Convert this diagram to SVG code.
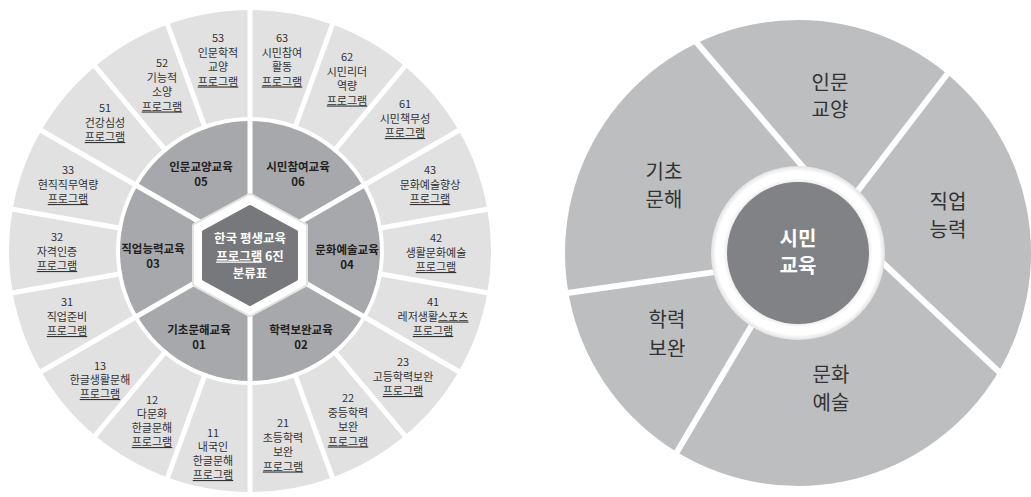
<svg xmlns="http://www.w3.org/2000/svg" width="1031" height="497" viewBox="0 0 1031 497">
<style>
text{font-family:"Noto Sans CJK KR","Noto Sans",sans-serif;text-anchor:middle}
.seg{fill:#e1e1e2}
.mid{fill:#a7a8ab}
.ol{font-size:11px;fill:#333}
.ml{font-size:11.5px;font-weight:bold;fill:#231f20}
.ct{font-size:12.5px;font-weight:bold;fill:#fff}
.u{text-decoration:underline}
.sep{stroke:#fff;stroke-width:5}
.rsep{stroke:#fff;stroke-width:6}
.rw{fill:#bcbec0}
.rl{font-size:20px;fill:#333}
.rc{font-size:20px;font-weight:bold;fill:#fff}
</style>
<defs>
<radialGradient id="ringG" cx="50%" cy="50%" r="50%">
<stop offset="0.78" stop-color="#dedede"/>
<stop offset="0.86" stop-color="#ffffff"/>
<stop offset="0.94" stop-color="#ffffff"/>
<stop offset="1" stop-color="#e2e2e2"/>
</radialGradient>
</defs>

<!-- LEFT WHEEL: outer ring -->
<g id="n63"><path class="seg" d="M250,117 L250,10 A241,241 0 0 1 332.43,24.53 L295.83,125.08 A134,134 0 0 0 250,117 Z"/>
<text class="ol" x="282" y="42">63<tspan x="282" dy="14.5">시민참여</tspan><tspan x="282" dy="14.5">활동</tspan><tspan x="282" dy="14.5" class="u">프로그램</tspan></text></g>
<g id="n62"><path class="seg" d="M295.83,125.08 L332.43,24.53 A241,241 0 0 1 404.91,66.38 L336.13,148.35 A134,134 0 0 0 295.83,125.08 Z"/>
<text class="ol" x="347" y="61">62<tspan x="347" dy="14.5">시민리더</tspan><tspan x="347" dy="14.5">역량</tspan><tspan x="347" dy="14.5" class="u">프로그램</tspan></text></g>
<g id="n61"><path class="seg" d="M336.13,148.35 L404.91,66.38 A241,241 0 0 1 458.71,130.5 L366.05,184 A134,134 0 0 0 336.13,148.35 Z"/>
<text class="ol" x="405" y="108">61<tspan x="405" dy="14.5">시민책무성</tspan><tspan x="405" dy="14.5" class="u">프로그램</tspan></text></g>
<g id="n43"><path class="seg" d="M366.05,184 L458.71,130.5 A241,241 0 0 1 487.34,209.15 L381.96,227.73 A134,134 0 0 0 366.05,184 Z"/>
<text class="ol" x="430" y="174">43<tspan x="430" dy="14.5">문화예술향상</tspan><tspan x="430" dy="14.5" class="u">프로그램</tspan></text></g>
<g id="n42"><path class="seg" d="M381.96,227.73 L487.34,209.15 A241,241 0 0 1 487.34,292.85 L381.96,274.27 A134,134 0 0 0 381.96,227.73 Z"/>
<text class="ol" x="436" y="242">42<tspan x="436" dy="14.5">생활문화예술</tspan><tspan x="436" dy="14.5" class="u">프로그램</tspan></text></g>
<g id="n41"><path class="seg" d="M381.96,274.27 L487.34,292.85 A241,241 0 0 1 458.71,371.5 L366.05,318 A134,134 0 0 0 381.96,274.27 Z"/>
<text class="ol" x="433" y="306">41<tspan x="433" dy="14.5">레저생활<tspan class="u">스포츠</tspan></tspan><tspan x="433" dy="14.5" class="u">프로그램</tspan></text></g>
<g id="n23"><path class="seg" d="M366.05,318 L458.71,371.5 A241,241 0 0 1 404.91,435.62 L336.13,353.65 A134,134 0 0 0 366.05,318 Z"/>
<text class="ol" x="403" y="366">23<tspan x="403" dy="14.5">고등학력보완</tspan><tspan x="403" dy="14.5" class="u">프로그램</tspan></text></g>
<g id="n22"><path class="seg" d="M336.13,353.65 L404.91,435.62 A241,241 0 0 1 332.43,477.47 L295.83,376.92 A134,134 0 0 0 336.13,353.65 Z"/>
<text class="ol" x="348" y="402">22<tspan x="348" dy="14.5">중등학력</tspan><tspan x="348" dy="14.5">보완</tspan><tspan x="348" dy="14.5" class="u">프로그램</tspan></text></g>
<g id="n21"><path class="seg" d="M295.83,376.92 L332.43,477.47 A241,241 0 0 1 250,492 L250,385 A134,134 0 0 0 295.83,376.92 Z"/>
<text class="ol" x="283" y="427">21<tspan x="283" dy="14.5">초등학력</tspan><tspan x="283" dy="14.5">보완</tspan><tspan x="283" dy="14.5" class="u">프로그램</tspan></text></g>
<g id="n11"><path class="seg" d="M250,385 L250,492 A241,241 0 0 1 167.57,477.47 L204.17,376.92 A134,134 0 0 0 250,385 Z"/>
<text class="ol" x="213" y="437">11<tspan x="213" dy="14">내국인</tspan><tspan x="213" dy="14">한글문해</tspan><tspan x="213" dy="14" class="u">프로그램</tspan></text></g>
<g id="n12"><path class="seg" d="M204.17,376.92 L167.57,477.47 A241,241 0 0 1 95.09,435.62 L163.87,353.65 A134,134 0 0 0 204.17,376.92 Z"/>
<text class="ol" x="152" y="404">12<tspan x="152" dy="14">다문화</tspan><tspan x="152" dy="14">한글문해</tspan><tspan x="152" dy="14" class="u">프로그램</tspan></text></g>
<g id="n13"><path class="seg" d="M163.87,353.65 L95.09,435.62 A241,241 0 0 1 41.29,371.5 L133.95,318 A134,134 0 0 0 163.87,353.65 Z"/>
<text class="ol" x="100" y="370">13<tspan x="100" dy="14">한글생활문해</tspan><tspan x="100" dy="14" class="u">프로그램</tspan></text></g>
<g id="n31"><path class="seg" d="M133.95,318 L41.29,371.5 A241,241 0 0 1 12.66,292.85 L118.04,274.27 A134,134 0 0 0 133.95,318 Z"/>
<text class="ol" x="67" y="306">31<tspan x="67" dy="14.5">직업준비</tspan><tspan x="67" dy="14.5" class="u">프로그램</tspan></text></g>
<g id="n32"><path class="seg" d="M118.04,274.27 L12.66,292.85 A241,241 0 0 1 12.66,209.15 L118.04,227.73 A134,134 0 0 0 118.04,274.27 Z"/>
<text class="ol" x="57" y="241">32<tspan x="57" dy="14.5">자격인증</tspan><tspan x="57" dy="14.5" class="u">프로그램</tspan></text></g>
<g id="n33"><path class="seg" d="M118.04,227.73 L12.66,209.15 A241,241 0 0 1 41.29,130.5 L133.95,184 A134,134 0 0 0 118.04,227.73 Z"/>
<text class="ol" x="68" y="174">33<tspan x="68" dy="14.5">현직직무역량</tspan><tspan x="68" dy="14.5" class="u">프로그램</tspan></text></g>
<g id="n51"><path class="seg" d="M133.95,184 L41.29,130.5 A241,241 0 0 1 95.09,66.38 L163.87,148.35 A134,134 0 0 0 133.95,184 Z"/>
<text class="ol" x="105" y="112">51<tspan x="105" dy="14.5">건강심성</tspan><tspan x="105" dy="14.5" class="u">프로그램</tspan></text></g>
<g id="n52"><path class="seg" d="M163.87,148.35 L95.09,66.38 A241,241 0 0 1 167.57,24.53 L204.17,125.08 A134,134 0 0 0 163.87,148.35 Z"/>
<text class="ol" x="162" y="67">52<tspan x="162" dy="14.5">기능적</tspan><tspan x="162" dy="14.5">소양</tspan><tspan x="162" dy="14.5" class="u">프로그램</tspan></text></g>
<g id="n53"><path class="seg" d="M204.17,125.08 L167.57,24.53 A241,241 0 0 1 250,10 L250,117 A134,134 0 0 0 204.17,125.08 Z"/>
<text class="ol" x="218" y="42">53<tspan x="218" dy="14.5">인문학적</tspan><tspan x="218" dy="14.5">교양</tspan><tspan x="218" dy="14.5" class="u">프로그램</tspan></text></g>

<!-- LEFT WHEEL: middle ring -->
<g id="n06"><path class="mid" d="M250,251 L250,121 A130,130 0 0 1 362.58,186 Z"/>
<text class="ml" x="298" y="171">시민참여교육<tspan x="298" dy="15">06</tspan></text></g>
<g id="n04"><path class="mid" d="M250,251 L362.58,186 A130,130 0 0 1 362.58,316 Z"/>
<text class="ml" x="347" y="254">문화예술교육<tspan x="347" dy="15">04</tspan></text></g>
<g id="n02"><path class="mid" d="M250,251 L362.58,316 A130,130 0 0 1 250,381 Z"/>
<text class="ml" x="301" y="334">학력보완교육<tspan x="301" dy="15">02</tspan></text></g>
<g id="n01"><path class="mid" d="M250,251 L250,381 A130,130 0 0 1 137.42,316 Z"/>
<text class="ml" x="199" y="334">기초문해교육<tspan x="199" dy="15">01</tspan></text></g>
<g id="n03"><path class="mid" d="M250,251 L137.42,316 A130,130 0 0 1 137.42,186 Z"/>
<text class="ml" x="153" y="253">직업능력교육<tspan x="153" dy="15">03</tspan></text></g>
<g id="n05"><path class="mid" d="M250,251 L137.42,186 A130,130 0 0 1 250,121 Z"/>
<text class="ml" x="201" y="171">인문교양교육<tspan x="201" dy="15">05</tspan></text></g>

<!-- RIGHT WHEEL base -->
<g id="right-wheel-base"><circle class="rw" cx="798" cy="253" r="233"/></g>

<!-- separators -->
<g id="connectors">
<g class="sep">
<line x1="250" y1="121" x2="250" y2="0"/>
<line x1="250" y1="121" x2="250" y2="0" transform="rotate(20 250 251)"/>
<line x1="250" y1="121" x2="250" y2="0" transform="rotate(40 250 251)"/>
<line x1="250" y1="121" x2="250" y2="0" transform="rotate(60 250 251)"/>
<line x1="250" y1="121" x2="250" y2="0" transform="rotate(80 250 251)"/>
<line x1="250" y1="121" x2="250" y2="0" transform="rotate(100 250 251)"/>
<line x1="250" y1="121" x2="250" y2="0" transform="rotate(120 250 251)"/>
<line x1="250" y1="121" x2="250" y2="0" transform="rotate(140 250 251)"/>
<line x1="250" y1="121" x2="250" y2="0" transform="rotate(160 250 251)"/>
<line x1="250" y1="121" x2="250" y2="0" transform="rotate(180 250 251)"/>
<line x1="250" y1="121" x2="250" y2="0" transform="rotate(200 250 251)"/>
<line x1="250" y1="121" x2="250" y2="0" transform="rotate(220 250 251)"/>
<line x1="250" y1="121" x2="250" y2="0" transform="rotate(240 250 251)"/>
<line x1="250" y1="121" x2="250" y2="0" transform="rotate(260 250 251)"/>
<line x1="250" y1="121" x2="250" y2="0" transform="rotate(280 250 251)"/>
<line x1="250" y1="121" x2="250" y2="0" transform="rotate(300 250 251)"/>
<line x1="250" y1="121" x2="250" y2="0" transform="rotate(320 250 251)"/>
<line x1="250" y1="121" x2="250" y2="0" transform="rotate(340 250 251)"/>
<line x1="250" y1="251" x2="250" y2="119"/>
<line x1="250" y1="251" x2="250" y2="119" transform="rotate(60 250 251)"/>
<line x1="250" y1="251" x2="250" y2="119" transform="rotate(120 250 251)"/>
<line x1="250" y1="251" x2="250" y2="119" transform="rotate(180 250 251)"/>
<line x1="250" y1="251" x2="250" y2="119" transform="rotate(240 250 251)"/>
<line x1="250" y1="251" x2="250" y2="119" transform="rotate(300 250 251)"/>
</g>
<g class="rsep">
<line x1="809.5" y1="174.6" x2="689.2" y2="33.9"/>
<line x1="853.9" y1="195.9" x2="955.3" y2="63.5"/>
<line x1="875.7" y1="256.2" x2="1008.7" y2="381"/>
<line x1="757.1" y1="316.4" x2="670.9" y2="462.3"/>
<line x1="724.9" y1="270.6" x2="555.1" y2="294.7"/>
</g>
</g>

<!-- LEFT WHEEL: centre hexagon -->
<g id="center-hex">
<polygon points="250,196 305,226 305,284 250,314 195,284 195,226" fill="#fff" stroke="#e3e3e3" stroke-width="6" stroke-linejoin="round"/>
<polygon points="250,196 305,226 305,284 250,314 195,284 195,226" fill="#fff" stroke="#fff" stroke-width="2" stroke-linejoin="round"/>
<polygon points="250,207 296,232 296,279 250,304 204,279 204,232" fill="#77787b" stroke="#77787b" stroke-width="4" stroke-linejoin="round"/>
<text class="ct" x="250" y="243">한국 평생교육<tspan x="250" dy="17.5"><tspan class="u">프로그램</tspan> 6진</tspan><tspan x="250" dy="17">분류표</tspan></text>
</g>

<!-- RIGHT WHEEL labels and centre -->
<g id="r-inmun"><text class="rl" x="830" y="89.5">인문<tspan x="830" dy="27.5">교양</tspan></text></g>
<g id="r-gicho"><text class="rl" x="664" y="179">기초<tspan x="664" dy="28">문해</tspan></text></g>
<g id="r-jigeop"><text class="rl" x="948" y="209">직업<tspan x="948" dy="28">능력</tspan></text></g>
<g id="r-hakryeok"><text class="rl" x="667" y="327">학력<tspan x="667" dy="29">보완</tspan></text></g>
<g id="r-munhwa"><text class="rl" x="831" y="382">문화<tspan x="831" dy="28">예술</tspan></text></g>
<g id="r-center">
<circle cx="798" cy="253" r="87" fill="url(#ringG)"/>
<circle cx="798" cy="253" r="71" fill="#808285"/>
<text class="rc" x="798" y="246">시민<tspan x="798" dy="27">교육</tspan></text>
</g>
</svg>
